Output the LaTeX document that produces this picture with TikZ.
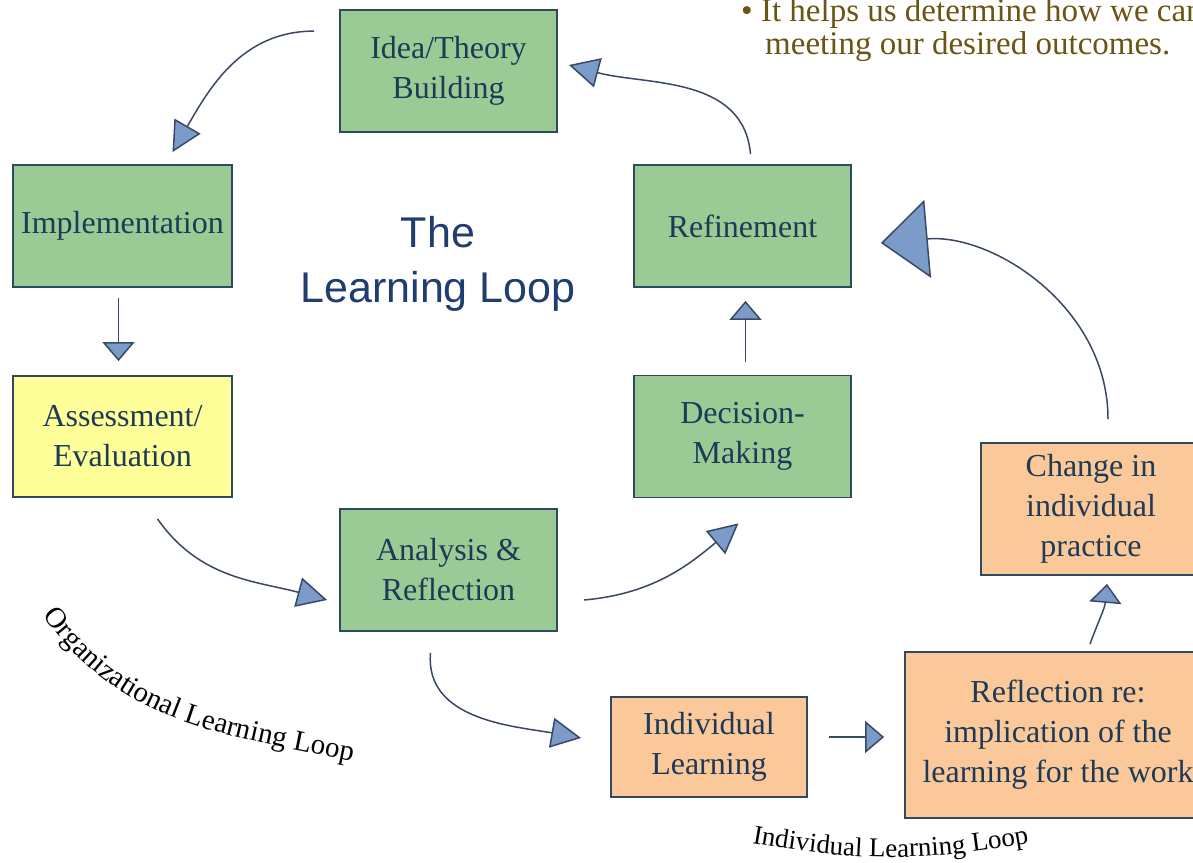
\documentclass[tikz,border=0pt]{standalone}
\usepackage{fontspec}
\setmainfont{Liberation Serif}
\newfontfamily\titlefont{Liberation Sans}
\usepackage{xcolor}
\usetikzlibrary{arrows.meta,positioning,decorations.text}

\definecolor{stagegreen}{HTML}{9BCB94}
\definecolor{evalyellow}{HTML}{FFFF99}
\definecolor{personalorange}{HTML}{FBC999}
\definecolor{boxline}{HTML}{2F4A60}
\definecolor{boxtext}{HTML}{1E3A57}
\definecolor{titleblue}{HTML}{1F3D6E}
\definecolor{flowline}{HTML}{3A4868}
\definecolor{headblue}{HTML}{7B9CC9}
\definecolor{noteolive}{HTML}{6B5514}

\newcommand{\boxfont}{\fontsize{32}{40}\selectfont}
\newcommand{\headfont}{\titlefont\fontsize{43}{55}\selectfont}
\newcommand{\notefont}{\fontsize{33}{35}\selectfont}
\newcommand{\orgfont}{\fontsize{29}{31}\selectfont}
\newcommand{\indfont}{\fontsize{27}{29}\selectfont}

\begin{document}
\begin{tikzpicture}[
    x=1pt, y=1pt,
    stage/.style={rectangle, draw=boxline, line width=1.8pt, fill=stagegreen, text=boxtext, font=\boxfont, align=center, inner sep=0pt, minimum width=217pt, minimum height=122pt},
    evalstage/.style={stage, fill=evalyellow, minimum width=219pt, minimum height=121pt},
    personal/.style={stage, fill=personalorange},
    flow/.style={draw=flowline, line width=1.5pt, -{Triangle[length=30pt, width=30pt, fill=headblue]}},
    shortflow/.style={flow, -{Triangle[length=19pt, width=32pt, fill=headblue]}},
    bigflow/.style={flow, -{Triangle[length=47pt, width=78pt, fill=headblue]}},
    looplabel/.style={decorate, decoration={text along path, text align=left}}
]
    \path[use as bounding box, fill=white] (0,0) rectangle (1193,862);
    \clip (0,0) rectangle (1193,862);

    % Organizational loop stages
    \node[stage] (idea) at (448.5,791) {Idea/Theory\\Building};
    \node[stage, minimum width=219pt] (impl) at (122.5,636) {Implementation};
    \node[stage] (refine) at (742.5,636) {Refinement};
    \node[evalstage] (assess) at (122.5,425.5) {Assessment/\\Evaluation};
    \node[stage] (decide) at (742.5,425.5) {Decision-\\Making};
    \node[stage] (analysis) at (448.5,292) {Analysis \&\\Reflection};

    % Individual loop stages
    \node[personal, minimum width=196pt, minimum height=100pt] (indiv) at (709,115) {Individual\\Learning};
    \node[personal, minimum width=306pt, minimum height=166pt] (reflect) at (1058,127) {Reflection re:\\implication of the\\learning for the work};
    \node[personal, minimum width=220pt, minimum height=132pt] (change) at (1091,353) {Change in\\individual\\practice};

    % Title and note
    \node[font=\headfont, text=titleblue, align=center] (title) at (438,598) {The\\Learning Loop};
    \node[font=\notefont, text=noteolive, anchor=base west, inner sep=0pt] (noteA) at (741,840) {\textbullet\ It helps us determine how we can};
    \node[font=\notefont, text=noteolive, anchor=base west, inner sep=0pt] (noteB) at (765,807) {meeting our desired outcomes.};

    % Arrows - organizational loop
    \draw[flow] ([shift={(-25,-22)}]idea.north west) to[out=180, in=60] ([shift={(50,12)}]impl.north);
    \draw[shortflow] ([xshift=-4pt, yshift=-10pt]impl.south) -- ([xshift=-4pt, yshift=14pt]assess.north);
    \draw[flow] ([shift={(35,-21)}]assess.south) to[out=-55, in=165] ([shift={(-12,-30)}]analysis.west);
    \draw[flow] ([shift={(26,-30)}]analysis.east) to[out=5, in=220] ([shift={(-4,-25)}]decide.south);
    \draw[shortflow] ([xshift=3pt, yshift=13pt]decide.north) -- ([xshift=3pt, yshift=-13pt]refine.south);
    \draw[flow] ([shift={(8,10)}]refine.north) to[out=95, in=-15] ([shift={(11,6)}]idea.east);

    % Arrows - individual loop
    \draw[flow] ([shift={(-18,-21)}]analysis.south) to[out=-95, in=170] ([shift={(-29,9)}]indiv.west);
    \draw[shortflow] ([shift={(21,10)}]indiv.east) -- ([shift={(-20,-2)}]reflect.west);
    \draw[shortflow] ([shift={(32,7)}]reflect.north) to[out=70, in=-95] ([shift={(16,-8)}]change.south);
    \draw[bigflow] ([shift={(17,23)}]change.north) to[out=90, in=5] ([shift={(29,-17)}]refine.east);

    % Loop labels
    \path[looplabel, decoration={text={|\orgfont|Organizational Learning Loop}}] (43,247) to[out=-55, in=168] (355,100);
    \path[looplabel, decoration={text={|\indfont|Individual Learning Loop}}] (752,19) to[out=-10, in=190] (1030,19);
\end{tikzpicture}
\end{document}
